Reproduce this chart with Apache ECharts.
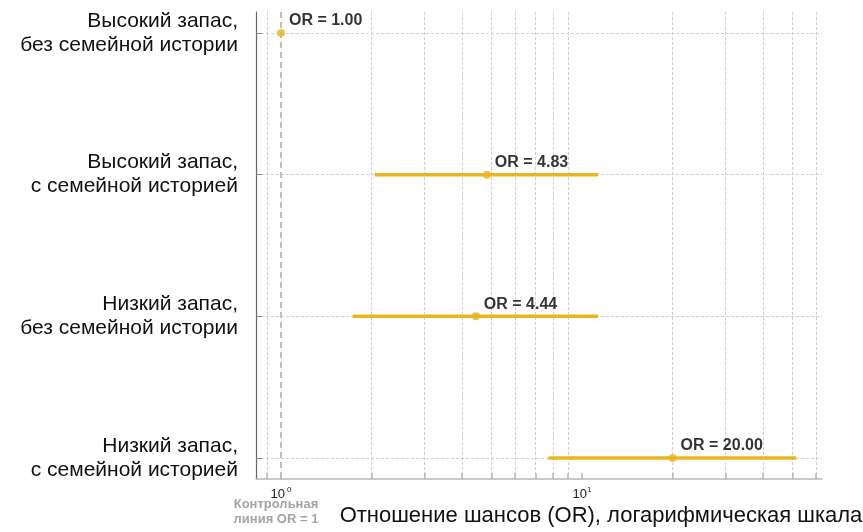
<!DOCTYPE html>
<html>
<head>
<meta charset="utf-8">
<script src="https://cdn.jsdelivr.net/npm/echarts@6/dist/echarts.min.js"></script>
<style>
html,body{margin:0;padding:0;background:#fff;}
#chart{width:863px;height:532px;}
</style>
</head>
<body>
<div id="chart"></div>
<script>
var categories = [
  'Высокий запас,\nбез семейной истории',
  'Высокий запас,\nс семейной историей',
  'Низкий запас,\nбез семейной истории',
  'Низкий запас,\nс семейной историей'
];
var orValues = [1.00, 4.83, 4.44, 20.00];
var ciLow = [1.00, 2.05, 1.73, 7.73];
var ciHigh = [1.00, 11.3, 11.3, 51.5];
var rowIndex = [0, 1, 2, 3];
var majorTicks = [1, 10];
var xMin = 0.826, xMax = 62.7;
var xTitle = 'Отношение шансов (OR), логарифмическая шкала';
var refNote = 'Контрольная\nлиния OR = 1';

var gold = '#E9B51E';
var font = 'Liberation Sans, Arial, sans-serif';

var ciData = rowIndex.map(function (i) { return [ciLow[i], ciHigh[i], i]; });
var pointData = rowIndex.map(function (i) { return [orValues[i], i]; });

var chart = echarts.init(document.getElementById('chart'));
var gridLine = { show: true, lineStyle: { color: '#cfcfcf', type: [3, 2], width: 1 } };

chart.setOption({
  animation: false,
  textStyle: { fontFamily: font },
  grid: { left: 256, right: 41, top: 12, bottom: 53, containLabel: false, outerBoundsMode: 'none' },
  xAxis: {
    type: 'log', logBase: 10, min: xMin, max: xMax,
    name: xTitle, nameLocation: 'middle', nameGap: 26,
    nameTextStyle: { fontSize: 22, color: '#111', fontFamily: font, padding: [0, 0, 0, 124] },
    axisLine: { show: true, onZero: false, lineStyle: { color: '#b5b5b5', width: 1.5 } },
    axisTick: { show: true, inside: true, length: 6, customValues: majorTicks, lineStyle: { color: '#b5b5b5', width: 1.5 } },
    minorTick: { show: true, splitNumber: 9, length: 6, lineStyle: { color: '#b5b5b5', width: 1.5 } },
    splitLine: { show: true, showMinLine: false, showMaxLine: false, lineStyle: { color: '#cfcfcf', type: [3, 2], width: 1 } },
    minorSplitLine: { show: true, lineStyle: { color: '#cfcfcf', type: [3, 2], width: 1 } },
    axisLabel: {
      showMinLabel: false, showMaxLabel: false, margin: 7,
      formatter: function (v) {
        var e = Math.round(Math.log10(v));
        if (Math.abs(Math.log10(v) - e) > 1e-6) return '';
        return e === 0 ? '{b|10}{s| 0}' : '{b|10}{s|' + e + '}';
      },
      rich: {
        b: { fontSize: 13, color: '#222', fontFamily: font },
        s: { fontSize: 8, color: '#222', fontFamily: font, verticalAlign: 'top', padding: [0, 0, 8, 0] }
      }
    }
  },
  yAxis: {
    type: 'value', inverse: true, min: -0.148, max: 3.148,
    axisLine: { show: true, onZero: false, lineStyle: { color: '#666', width: 1.2 } },
    axisTick: { show: true, inside: true, length: 6, customValues: rowIndex, lineStyle: { color: '#888' } },
    axisLabel: {
      customValues: rowIndex, margin: 18,
      fontSize: 21, lineHeight: 24, color: '#111', align: 'right', fontFamily: font,
      formatter: function (v) { return categories[Math.round(v)] || ''; }
    },
    splitLine: gridLine
  },
  graphic: [{
    type: 'text', x: 276, y: 497,
    style: { text: refNote, align: 'center', fill: '#a4a4a4', font: 'bold 13px ' + font, lineHeight: 15 }
  }],
  series: [
    {
      type: 'custom',
      data: ciData,
      encode: { x: [0, 1], y: 2 },
      renderItem: function (params, api) {
        var a = api.coord([api.value(0), api.value(2)]);
        var b = api.coord([api.value(1), api.value(2)]);
        return { type: 'line', shape: { x1: a[0], y1: a[1], x2: b[0], y2: b[1] },
          style: { stroke: gold, lineWidth: 3.5 } };
      },
      z: 3
    },
    {
      type: 'scatter',
      data: pointData,
      symbolSize: 8,
      itemStyle: { color: gold },
      z: 4,
      label: {
        show: true, position: 'right', distance: 4, offset: [0, -12],
        fontSize: 16, fontWeight: 'bold', color: '#000', fontFamily: font,
        textBorderWidth: 0,
        formatter: function (p) { return 'OR = ' + p.value[0].toFixed(2); }
      },
      markLine: {
        silent: true, symbol: 'none', label: { show: false },
        lineStyle: { color: '#bdbdbd', type: [6, 4], width: 2 },
        data: [{ xAxis: 1 }],
        z: 2
      }
    }
  ]
});
</script>
</body>
</html>
